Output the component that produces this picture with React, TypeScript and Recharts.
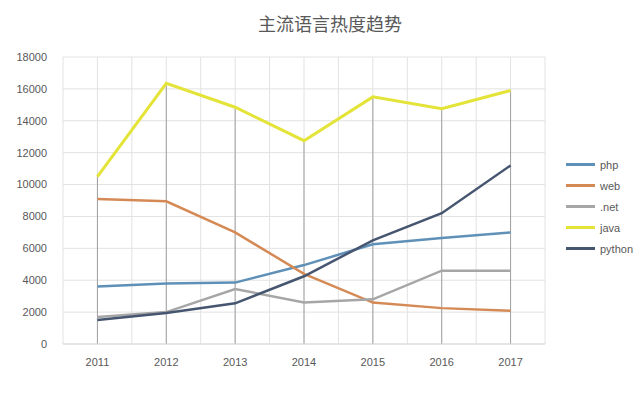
import React from 'react';
import { LineChart, Line, XAxis, YAxis, CartesianGrid, ReferenceLine } from 'recharts';

const years = [2011, 2012, 2013, 2014, 2015, 2016, 2017];
const php = [3600, 3800, 3850, 4950, 6250, 6650, 7000];
const web = [9100, 8950, 7000, 4400, 2600, 2250, 2080];
const dotnet = [1700, 2000, 3450, 2600, 2800, 4600, 4600];
const java = [10500, 16350, 14850, 12750, 15500, 14750, 15900];
const python = [1500, 1950, 2550, 4250, 6500, 8200, 11200];
const yTicks = [0, 2000, 4000, 6000, 8000, 10000, 12000, 14000, 16000, 18000];

const series = [
  { key: 'php', color: '#5f91b8' },
  { key: 'web', color: '#d58a55' },
  { key: '.net', color: '#a6a6a6' },
  { key: 'java', color: '#e3e338' },
  { key: 'python', color: '#465670' },
];

const data = years.map((year, i) => ({
  year,
  php: php[i],
  web: web[i],
  '.net': dotnet[i],
  java: java[i],
  python: python[i],
}));

// half-step ticks so the grid gets lines at category centres and edges
const xTicks: number[] = [];
for (let i = 0; i <= years.length * 2; i++) xTicks.push(years[0] - 0.5 + i * 0.5);

const font = '"Liberation Sans", "Noto Sans", sans-serif';

function LegendBox() {
  return (
    <div style={{ position: 'absolute', left: 566, top: 154, fontFamily: font, fontSize: 11, color: '#595959' }}>
      {series.map((s) => (
        <div key={s.key} style={{ display: 'flex', alignItems: 'center', height: 21 }}>
          <span style={{ display: 'inline-block', width: 29, height: 3, background: s.color, marginRight: 5 }} />
          <span>{s.key}</span>
        </div>
      ))}
    </div>
  );
}

export default function App() {
  return (
    <div style={{ position: 'absolute', left: 0, top: 0, width: 640, height: 397, background: '#fff' }}>
      <div
        style={{
          position: 'absolute',
          left: 0,
          top: 10,
          width: 660,
          textAlign: 'center',
          fontFamily: '"Noto Sans CJK SC", sans-serif',
          fontSize: 18,
          color: '#595959',
        }}
      >
        主流语言热度趋势
      </div>
      <LineChart width={640} height={397} data={data} margin={{ top: 57, right: 95, bottom: 23, left: 0 }}>
        <CartesianGrid stroke="#e2e2e2" strokeWidth={1} />
        <XAxis
          dataKey="year"
          type="number"
          height={30}
          domain={[years[0] - 0.5, years[years.length - 1] + 0.5]}
          ticks={xTicks}
          interval={0}
          tickFormatter={(v: number) => (Number.isInteger(v) ? String(v) : '')}
          tickLine={false}
          axisLine={{ stroke: '#d9d9d9' }}
          tick={{ fill: '#595959', fontSize: 11, fontFamily: font }}
          tickMargin={8}
        />
        <YAxis
          width={63}
          domain={[0, 18000]}
          ticks={yTicks}
          interval={0}
          axisLine={false}
          tickLine={false}
          tick={{ fill: '#595959', fontSize: 11, fontFamily: font }}
          tickMargin={10}
        />
        {data.map((d) => (
          <ReferenceLine
            key={d.year}
            segment={[
              { x: d.year, y: 0 },
              { x: d.year, y: Math.max(d.php, d.web, d['.net'], d.java, d.python) },
            ]}
            stroke="#a0a0a0"
            strokeWidth={1}
          />
        ))}
        {series.map((s) => (
          <Line
            key={s.key}
            type="linear"
            dataKey={s.key}
            stroke={s.color}
            strokeWidth={s.key === 'java' ? 3 : 2.5}
            dot={false}
            isAnimationActive={false}
          />
        ))}
      </LineChart>
      <LegendBox />
    </div>
  );
}
